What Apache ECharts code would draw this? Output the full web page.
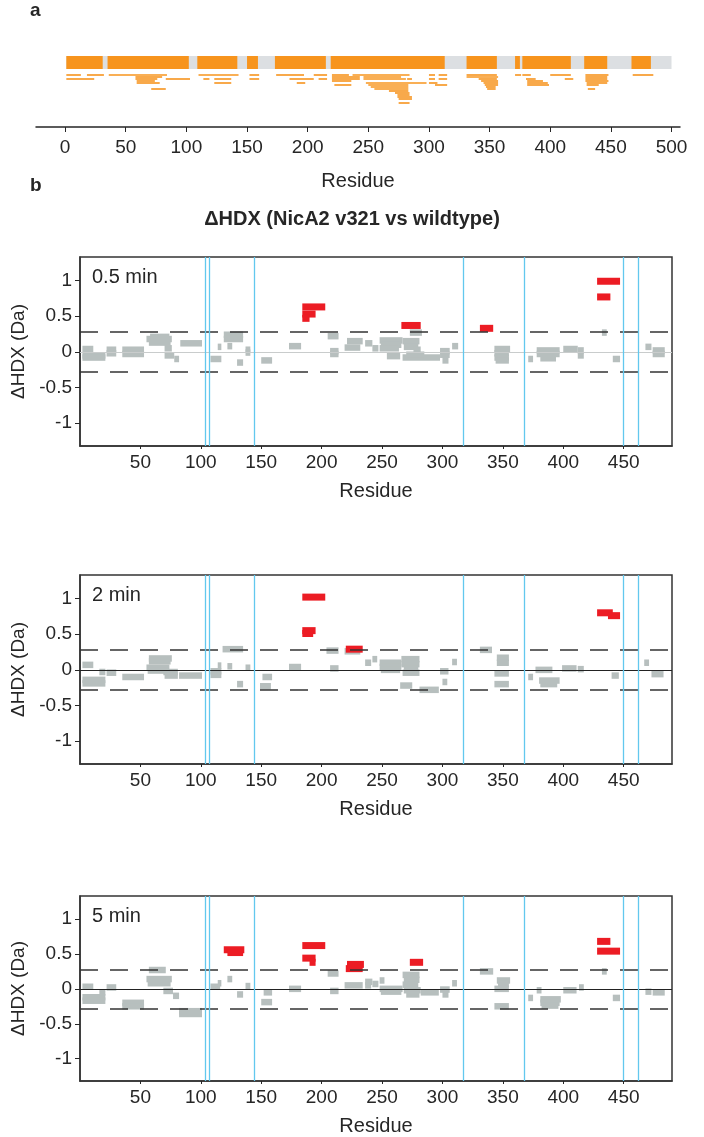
<!DOCTYPE html>
<html>
<head>
<meta charset="utf-8">
<script src="https://cdn.jsdelivr.net/npm/echarts@6/dist/echarts.min.js"></script>
<style>
  html, body { margin: 0; padding: 0; background: #fff; }
  #main { width: 704px; height: 1137px; }
</style>
</head>
<body>
<div id="main"></div>
<script>
// ---- panel a: sequence coverage ----
const seqLength = 500;
const coverage = [[1, 31], [35, 102], [109, 142], [150, 159], [173, 215], [219, 313],
  [331, 356], [371, 375], [377, 417], [428, 447], [467, 483]];
// peptides: [start, end, row]
const peptideMap = [
  [1, 13, 0], [18, 32, 0], [36, 84, 0], [110, 143, 0], [152, 160, 0], [174, 197, 0], [205, 216, 0],
  [220, 234, 0], [237, 284, 0], [300, 305, 0], [308, 315, 0], [331, 356, 0], [371, 376, 0],
  [377, 384, 0], [400, 417, 0], [429, 448, 0], [468, 485, 0],
  [58, 80, 1], [220, 243, 1], [246, 277, 1], [331, 357, 1], [429, 447, 1],
  [1, 24, 2], [58, 76, 2], [83, 103, 2], [114, 119, 2], [123, 137, 2], [152, 160, 2], [185, 205, 2],
  [209, 216, 2], [220, 243, 2], [246, 281, 2], [282, 286, 2], [300, 305, 2], [308, 315, 2],
  [341, 356, 2], [380, 388, 2], [412, 419, 2], [429, 447, 2],
  [59, 74, 3], [220, 236, 3], [343, 357, 3], [381, 394, 3], [429, 448, 3],
  [59, 78, 4], [123, 137, 4], [191, 198, 4], [248, 298, 4], [300, 307, 4], [345, 357, 4],
  [381, 398, 4], [430, 447, 4],
  [222, 236, 5], [250, 283, 5], [305, 315, 5], [346, 357, 5], [381, 399, 5], [430, 440, 5],
  [252, 283, 6], [347, 355, 6],
  [71, 83, 7], [255, 283, 7], [348, 355, 7], [431, 437, 7],
  [267, 283, 8], [272, 284, 9], [274, 284, 10], [274, 286, 11], [275, 286, 12], [275, 284, 14]
];
const ticksA = [0, 50, 100, 150, 200, 250, 300, 350, 400, 450, 500];

// ---- panel b: ΔHDX per peptide [start, end, ΔHDX] ----
const timeLabels = ['0.5 min', '2 min', '5 min'];
const gray05 = [
  [2, 11, 0.04], [2, 21, -0.05], [2, 21, -0.08], [22, 30, 0.03], [22, 30, -0.02], [35, 53, 0.03], [35, 53, -0.03],
  [55, 76, 0.18], [57, 75, 0.13], [58, 74, 0.21], [70, 76, 0.05], [70, 78, -0.05], [78, 82, -0.1],
  [83, 101, 0.12], [108, 117, -0.1], [114, 117, 0.07], [119, 135, 0.24], [119, 135, 0.18],
  [122, 126, 0.08], [130, 135, -0.15], [137, 141, 0.03], [137, 141, -0.01], [150, 159, -0.12],
  [173, 183, 0.08], [205, 214, 0.22], [207, 214, 0.01], [207, 214, -0.03],
  [219, 232, 0.06], [221, 234, 0.15], [236, 242, 0.12], [242, 247, 0.05],
  [248, 267, 0.16], [249, 266, 0.1], [248, 264, 0.05], [254, 265, -0.06],
  [273, 283, 0.27], [267, 281, 0.15], [268, 280, 0.07], [267, 298, -0.08], [270, 285, -0.04],
  [276, 282, 0.03], [298, 306, 0.01], [298, 306, -0.04], [300, 305, -0.12], [308, 313, 0.08],
  [343, 356, 0.04], [343, 355, -0.02], [343, 355, -0.08], [344, 355, -0.12],
  [371, 375, -0.1], [378, 397, 0.02], [378, 397, -0.03], [381, 394, -0.09],
  [400, 412, 0.04], [412, 417, 0.02], [412, 417, -0.05], [432, 436, 0.27], [441, 447, -0.1],
  [468, 473, 0.07], [474, 484, 0.02], [474, 484, -0.03]
];
const red05 = [
  [184, 203, 0.63], [184, 195, 0.53], [184, 190, 0.47], [266, 282, 0.37], [331, 342, 0.33],
  [428, 447, 0.99], [428, 439, 0.77]
];
const gray2 = [
  [2, 11, 0.07], [2, 21, -0.14], [2, 21, -0.19], [16, 21, -0.03], [22, 30, -0.04], [35, 53, -0.1],
  [57, 76, 0.16], [57, 75, 0.12], [55, 74, 0.03], [56, 73, -0.01], [69, 81, -0.03], [70, 81, -0.08],
  [82, 101, -0.08], [108, 117, -0.02], [108, 117, -0.07], [114, 117, 0.06], [118, 135, 0.29],
  [122, 126, 0.05], [130, 135, -0.2], [137, 141, 0.03], [151, 159, -0.1], [149, 158, -0.23],
  [173, 183, 0.04], [204, 214, 0.27], [207, 214, 0.02], [219, 232, 0.26],
  [236, 241, 0.1], [242, 246, 0.15], [248, 266, 0.1], [248, 266, 0.04], [249, 265, 0.0],
  [266, 281, 0.15], [266, 281, 0.08], [268, 280, 0.02], [267, 281, -0.04], [265, 275, -0.22],
  [281, 297, -0.28], [298, 305, -0.02], [300, 304, -0.17], [308, 312, 0.11], [331, 341, 0.28],
  [345, 355, 0.17], [345, 355, 0.1], [343, 355, -0.05], [343, 355, -0.2],
  [371, 375, -0.1], [377, 391, 0.0], [380, 397, -0.15], [381, 395, -0.2], [399, 411, 0.02],
  [412, 417, 0.01], [440, 446, -0.08], [467, 471, 0.1], [473, 483, -0.06]
];
const red2 = [
  [184, 203, 1.02], [184, 195, 0.55], [184, 193, 0.51], [220, 234, 0.29],
  [428, 441, 0.8], [437, 447, 0.76]
];
const gray5 = [
  [2, 11, 0.03], [2, 21, -0.12], [2, 21, -0.17], [16, 21, -0.05], [22, 30, 0.02], [35, 53, -0.2],
  [35, 53, -0.25], [57, 71, 0.27], [55, 76, 0.14], [56, 75, 0.08], [69, 77, -0.03], [77, 82, -0.1],
  [82, 101, -0.32], [82, 101, -0.36], [108, 116, 0.03], [114, 117, 0.08], [122, 126, 0.14],
  [130, 135, -0.08], [137, 141, 0.04], [152, 159, -0.05], [150, 159, -0.19], [173, 183, 0.0],
  [205, 214, 0.22], [207, 214, -0.03], [219, 234, 0.05], [236, 242, 0.1], [236, 241, 0.05],
  [242, 247, 0.07], [248, 252, 0.12], [248, 267, 0.0], [249, 266, -0.04],
  [267, 281, 0.2], [268, 281, 0.13], [267, 280, 0.06], [268, 282, -0.02], [270, 281, -0.08],
  [282, 297, -0.05], [298, 306, -0.01], [300, 305, -0.08], [308, 312, 0.08], [331, 342, 0.25],
  [345, 356, 0.12], [346, 355, 0.07], [343, 355, 0.0], [343, 355, -0.25],
  [371, 375, -0.13], [378, 382, -0.02], [381, 398, -0.15], [381, 397, -0.2], [382, 396, -0.24],
  [400, 411, -0.02], [413, 417, 0.02], [432, 436, 0.25], [441, 447, -0.13],
  [468, 473, -0.04], [474, 484, -0.05]
];
const red5 = [
  [119, 136, 0.56], [122, 135, 0.52], [184, 203, 0.62], [184, 195, 0.44], [190, 195, 0.38],
  [221, 235, 0.35], [220, 234, 0.29], [273, 284, 0.38], [428, 439, 0.68], [428, 447, 0.54]
];
const grayByTime = [gray05, gray2, gray5];
const redByTime = [red05, red2, red5];
const boundaries = [104, 107, 144, 317, 368, 450, 462];
const threshold = 0.28;
const ticksB = [50, 100, 150, 200, 250, 300, 350, 400, 450];
const yTicks = [-1, -0.5, 0, 0.5, 1];

const chart = echarts.init(document.getElementById('main'));
const font = 'Liberation Sans, Arial, sans-serif';
const ink = '#262626';

// rectangle of fixed pixel height from start to end residue
function barItem(h) {
  return function (params, api) {
    const a = api.coord([api.value(0), api.value(2)]);
    const b = api.coord([api.value(1), api.value(2)]);
    return {
      type: 'rect',
      shape: { x: a[0], y: a[1] - h / 2, width: Math.max(b[0] - a[0], 1), height: h },
      style: { fill: api.visual('color') }
    };
  };
}

const grids = [{ left: 36, right: 24, top: 50, height: 77 }];
const xAxes = [{
  gridIndex: 0, type: 'value', min: -24, max: 507,
  splitLine: { show: false },
  axisLine: { onZero: false, lineStyle: { color: ink, width: 1.5 } },
  axisTick: { customValues: ticksA, length: 5, lineStyle: { color: ink } },
  axisLabel: { customValues: ticksA, color: ink, fontSize: 19, fontFamily: font, margin: 11 },
  name: 'Residue', nameLocation: 'middle', nameGap: 44,
  nameTextStyle: { color: ink, fontSize: 20, fontFamily: font }
}];
const yAxes = [{
  gridIndex: 0, type: 'value', min: -12.5, max: 26, inverse: true, show: false
}];
const series = [
  {
    type: 'custom', xAxisIndex: 0, yAxisIndex: 0, color: '#DCDFE2',
    renderItem: barItem(13), encode: { x: [0, 1], y: 2 },
    data: [[1, seqLength, -6.25]]
  },
  {
    type: 'custom', xAxisIndex: 0, yAxisIndex: 0, color: '#F7941D',
    renderItem: barItem(13), encode: { x: [0, 1], y: 2 },
    data: coverage.map(c => [c[0], c[1], -6.25])
  },
  {
    type: 'custom', xAxisIndex: 0, yAxisIndex: 0, color: '#F7941D',
    renderItem: barItem(1.6), encode: { x: [0, 1], y: 2 },
    data: peptideMap
  }
];

const tops = [257, 575, 896];
const graphics = [
  { type: 'text', left: 30, top: 1, style: { text: 'a', font: 'bold 19px ' + font, fill: ink } },
  { type: 'text', left: 30, top: 176, style: { text: 'b', font: 'bold 19px ' + font, fill: ink } },
  { type: 'text', left: 'center', top: 209, style: { text: 'ΔHDX (NicA2 v321 vs wildtype)', font: 'bold 20px ' + font, fill: ink } }
];

timeLabels.forEach((label, i) => {
  const k = i + 1;
  grids.push({ left: 80, right: 32, top: tops[i], height: 189, show: true, borderColor: '#333', borderWidth: 1.5 });
  xAxes.push({
    gridIndex: k, type: 'value', min: 0, max: 490,
    splitLine: { show: false },
    axisLine: { onZero: false, lineStyle: { color: '#333', width: 1.5 } },
    axisTick: { customValues: ticksB, length: 3, lineStyle: { color: ink } },
    axisLabel: { customValues: ticksB, color: ink, fontSize: 19, fontFamily: font, margin: 7 },
    name: 'Residue', nameLocation: 'middle', nameGap: 35,
    nameTextStyle: { color: ink, fontSize: 20, fontFamily: font }
  });
  yAxes.push({
    gridIndex: k, type: 'value', min: -1.32, max: 1.33,
    splitLine: { show: false },
    axisLine: { onZero: false, lineStyle: { color: '#333', width: 1.5 } },
    axisTick: { customValues: yTicks, length: 5, lineStyle: { color: ink } },
    axisLabel: { customValues: yTicks, color: ink, fontSize: 19, fontFamily: font, margin: 8 },
    name: 'ΔHDX (Da)', nameLocation: 'middle', nameGap: 52, nameRotate: 90,
    nameTextStyle: { color: ink, fontSize: 19, fontFamily: font }
  });
  // reference lines
  series.push({
    type: 'line', xAxisIndex: k, yAxisIndex: k, data: [], z: 1, silent: true,
    markLine: {
      symbol: 'none', silent: true, animation: false, label: { show: false },
      data: [
        { yAxis: 0, lineStyle: { color: i === 0 ? '#C9CCCC' : '#222', width: 1.2, type: 'solid' } },
        { yAxis: threshold, lineStyle: { color: '#333', width: 1.5, type: [18, 12] } },
        { yAxis: -threshold, lineStyle: { color: '#333', width: 1.5, type: [18, 12] } }
      ].concat(boundaries.map(b => ({ xAxis: b, lineStyle: { color: '#62C8EE', width: 1.3, type: 'solid' } })))
    }
  });
  series.push({
    type: 'custom', xAxisIndex: k, yAxisIndex: k, color: '#B7BFBE', z: 3,
    renderItem: barItem(6.5), encode: { x: [0, 1], y: 2 }, data: grayByTime[i]
  });
  series.push({
    type: 'custom', xAxisIndex: k, yAxisIndex: k, color: '#EC1C24', z: 4,
    renderItem: barItem(7), encode: { x: [0, 1], y: 2 }, data: redByTime[i]
  });
  graphics.push({ type: 'text', left: 92, top: tops[i] + 10, style: { text: label, font: '20px ' + font, fill: ink } });
});

chart.setOption({
  animation: false,
  backgroundColor: '#fff',
  grid: grids,
  xAxis: xAxes,
  yAxis: yAxes,
  series: series,
  graphic: graphics
});
</script>
</body>
</html>
